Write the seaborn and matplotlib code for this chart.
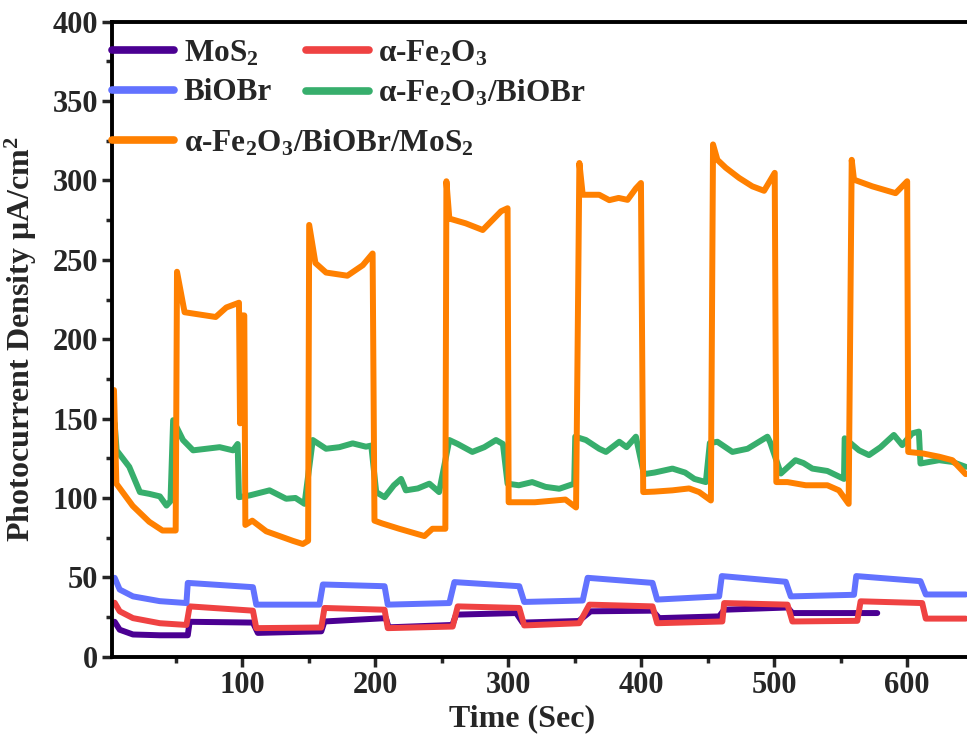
import pandas as pd
import numpy as np
import matplotlib
matplotlib.use('Agg')
import matplotlib.pyplot as plt
import seaborn as sns
from matplotlib.lines import Line2D
from matplotlib.ticker import MultipleLocator

# values (time in s, current in uA/cm2)
mos2_t = [4, 7.8, 17.8, 38, 59, 60.4, 108, 111.7, 159.4, 161.8, 208, 210, 258, 260.8, 306, 310.8,
          353, 362, 408.5, 413.5, 458.6, 462.4, 510, 513.7, 577.5]
mos2_y = [22, 17, 14, 13.5, 13.5, 22, 21.5, 15, 16, 22.2, 24.3, 18.5, 20, 26.5, 27.5, 21.5,
          22.5, 28.6, 29, 24.3, 25.4, 29.6, 31, 27.5, 27.5]

fe2o3_t = [4, 7.8, 17.8, 38, 58, 60.4, 108, 110.5, 159.4, 161.8, 207, 209.4, 258.2, 262, 308.3, 312,
           353.4, 361, 408.5, 412, 461, 462.4, 510, 513.7, 562.5, 565, 611.3, 614, 644]
fe2o3_y = [34, 28.6, 24.3, 21.1, 20, 31.7, 29, 18, 18.4, 30.7, 29.6, 18, 19, 31.7, 30.7, 19.7,
           21.1, 32.8, 31.7, 21.1, 22.2, 33.8, 32.8, 22.2, 22.6, 34.9, 33.8, 24, 24]

biobr_t = [4, 7.8, 17.8, 37.9, 58, 59, 108, 110.5, 158, 160.6, 207, 209.4, 255.7, 259.5, 308.3, 312,
           356, 359.7, 408.5, 412, 458.6, 460.6, 508.7, 512.5, 560, 561.7, 610, 614, 644]
biobr_y = [49.7, 42.3, 38, 35, 33.8, 46.5, 43.8, 32.8, 32.8, 45.5, 44.4, 32.8, 33.8, 47, 44.4, 34.5,
           35.4, 49.7, 46.5, 36, 38, 50.8, 47.2, 38, 39, 50.8, 47.6, 39.2, 39.2]

fe_bi_t = [4, 5.5, 15, 23, 30, 38, 43, 46, 48, 55.4, 63, 83, 93, 96.5, 97.5, 105.5, 120.5, 133, 140,
           146.8, 153, 163, 173, 183, 193, 197, 200.7, 207, 214, 219.4, 223, 232, 240.7, 248,
           255.7, 262, 273, 282, 290.8, 296, 299.5, 308, 318, 328, 338.4, 349.6, 350.4,
           358.4, 368.4, 373.5, 383.5, 389, 396, 402, 410, 423.5, 433, 440, 448.6, 451.6,
           457.3, 468.6, 480, 494.9, 497, 505, 516, 522, 528.7, 540, 552.5, 553,
           563.8, 571.3, 580, 590, 596.3, 603.8, 608.8, 610, 624, 634, 644]
fe_bi_y = [147, 130, 119.6, 103.7, 102.6, 101, 95.2, 98, 149, 136.5, 130, 132, 130, 134, 100.5, 101.6,
           104.8, 99.5, 100, 96.3, 136.5, 131, 132, 134.4, 132.3, 133, 103.7, 100.5, 108, 112, 104.8,
           106, 109, 103.7, 136.5, 134, 129, 132, 136.5, 134, 109, 108, 110, 107, 105.8, 109,
           138.6, 136.5, 131, 129, 135.4, 132, 138.6, 115, 116, 118.5, 116, 112, 110, 134.6,
           135.4, 129, 131, 138.6, 135, 115.4, 123.8, 122, 118.5, 117, 112, 137.6,
           130, 127, 132, 139.7, 133.3, 140.7, 141.8, 121.7, 123.8, 122.7, 119.6]

tern_t = [3.5, 5.3, 17.6, 30, 40, 49.9, 50.9, 56.6, 80, 88, 97.5, 98.3, 99, 101.5, 102.3, 107.5,
          118, 128, 138, 145.5, 149.5, 150.3, 155, 163, 179, 190.6, 198, 199.4, 205, 218, 237,
          243, 252.7, 253.5, 255.7, 268, 280.8, 294.6, 299.5, 300.3, 320, 343, 351, 353.5,
          356, 368.4, 376, 383, 389.7, 396, 399.8, 401.5, 410, 423.5, 436, 443.6, 452.4,
          454, 457.3, 463.6, 473.6, 483.6, 492.4, 500.4, 501.6, 510, 523.7, 540, 548.7, 556,
          558.3, 560, 573.8, 591.3, 600, 600.8, 612, 624, 634, 644]
tern_y = [168, 109, 95, 85, 79.5, 79.5, 242.5, 217, 214, 220, 223, 147, 215, 215, 83, 85.7,
          79, 76, 73, 71, 73, 272, 248, 242, 240, 246.6, 254, 85.7, 84, 80.6, 76,
          80.6, 80.6, 299.5, 276, 273, 268.8, 280.6, 282.5, 97.3, 97.3, 99, 94, 311,
          291, 291, 287.6, 289, 287.8, 295, 298.4, 103.7, 104, 104.8, 106, 103.7, 98.4,
          322.7, 313, 308, 301.6, 296.3, 293.5, 304.8, 110, 110, 108, 108, 104.8, 96.3,
          313, 300.5, 296.3, 292, 299.5, 129, 128, 126, 123.8, 115]

names = ['MoS$_2$', 'α-Fe$_2$O$_3$', 'BiOBr', 'α-Fe$_2$O$_3$/BiOBr', 'α-Fe$_2$O$_3$/BiOBr/MoS$_2$']
colors = ['#4B0092', '#EF4242', '#6272FF', '#37AE6C', '#FF8000']

frames = []
for name, t, y in zip(names, [mos2_t, fe2o3_t, biobr_t, fe_bi_t, tern_t],
                      [mos2_y, fe2o3_y, biobr_y, fe_bi_y, tern_y]):
    frames.append(pd.DataFrame({'Time': t, 'Current': y, 'Sample': name}))
df = pd.concat(frames, ignore_index=True)

sns.set_theme(style='ticks')
plt.rcParams['font.family'] = ['Liberation Serif', 'DejaVu Serif']
plt.rcParams['font.weight'] = 'bold'
plt.rcParams['mathtext.fontset'] = 'custom'
plt.rcParams['mathtext.rm'] = 'Liberation Serif:bold'
plt.rcParams['mathtext.it'] = 'Liberation Serif:bold'
plt.rcParams['mathtext.bf'] = 'Liberation Serif:bold'

fig = plt.figure(figsize=(9.67, 7.34), dpi=100)
ax = fig.add_axes([0.1158, 0.1053, 0.8842, 0.8651])

sns.lineplot(data=df, x='Time', y='Current', hue='Sample', hue_order=names,
             palette=dict(zip(names, colors)), linewidth=4.3, sort=False, estimator=None,
             legend=False, ax=ax, solid_joinstyle='round', solid_capstyle='round')

ax.set_xlim(2, 645)
ax.set_ylim(0, 400)
ax.xaxis.set_major_locator(MultipleLocator(100))
ax.xaxis.set_minor_locator(MultipleLocator(50))
ax.yaxis.set_major_locator(MultipleLocator(50))
ax.yaxis.set_minor_locator(MultipleLocator(25))
ax.set_xticks([100, 200, 300, 400, 500, 600])
ax.tick_params(which='major', direction='out', length=7, width=2.5, labelsize=22, pad=3)
ax.tick_params(which='minor', direction='out', length=4.5, width=2.5)
ax.tick_params(top=False, right=False, which='both')
for lab in ax.get_xticklabels() + ax.get_yticklabels():
    lab.set_fontweight('bold')
for side in ['left', 'bottom', 'top']:
    ax.spines[side].set_linewidth(2.8)
    ax.spines[side].set_color('black')
ax.spines['right'].set_visible(False)

ax.set_xlabel('Time (Sec)', fontsize=23, fontweight='bold')
ax.set_ylabel('Photocurrent Density μA/cm$^2$', fontsize=23, fontweight='bold')
ax.xaxis.set_label_coords(0.48, -0.075)
ax.yaxis.set_label_coords(-0.085, 0.5)

handles = [Line2D([], [], color=c, linewidth=5.5) for c in colors]
leg_kw = dict(frameon=False, handlelength=2.0, handletextpad=0.3,
              borderpad=0, borderaxespad=0, prop={'weight': 'bold', 'size': 22.5})
leg1 = ax.legend([handles[0], handles[2], handles[1], handles[3]],
                 [names[0], names[2], names[1], names[3]], ncol=2, loc='center left',
                 bbox_to_anchor=(0.0, 0.918), columnspacing=1.1, labelspacing=0.33, **leg_kw)
ax.add_artist(leg1)
ax.legend([handles[4]], [names[4]], loc='center left', bbox_to_anchor=(0.0, 0.809), **leg_kw)

fig.savefig('out.png', dpi=100)
